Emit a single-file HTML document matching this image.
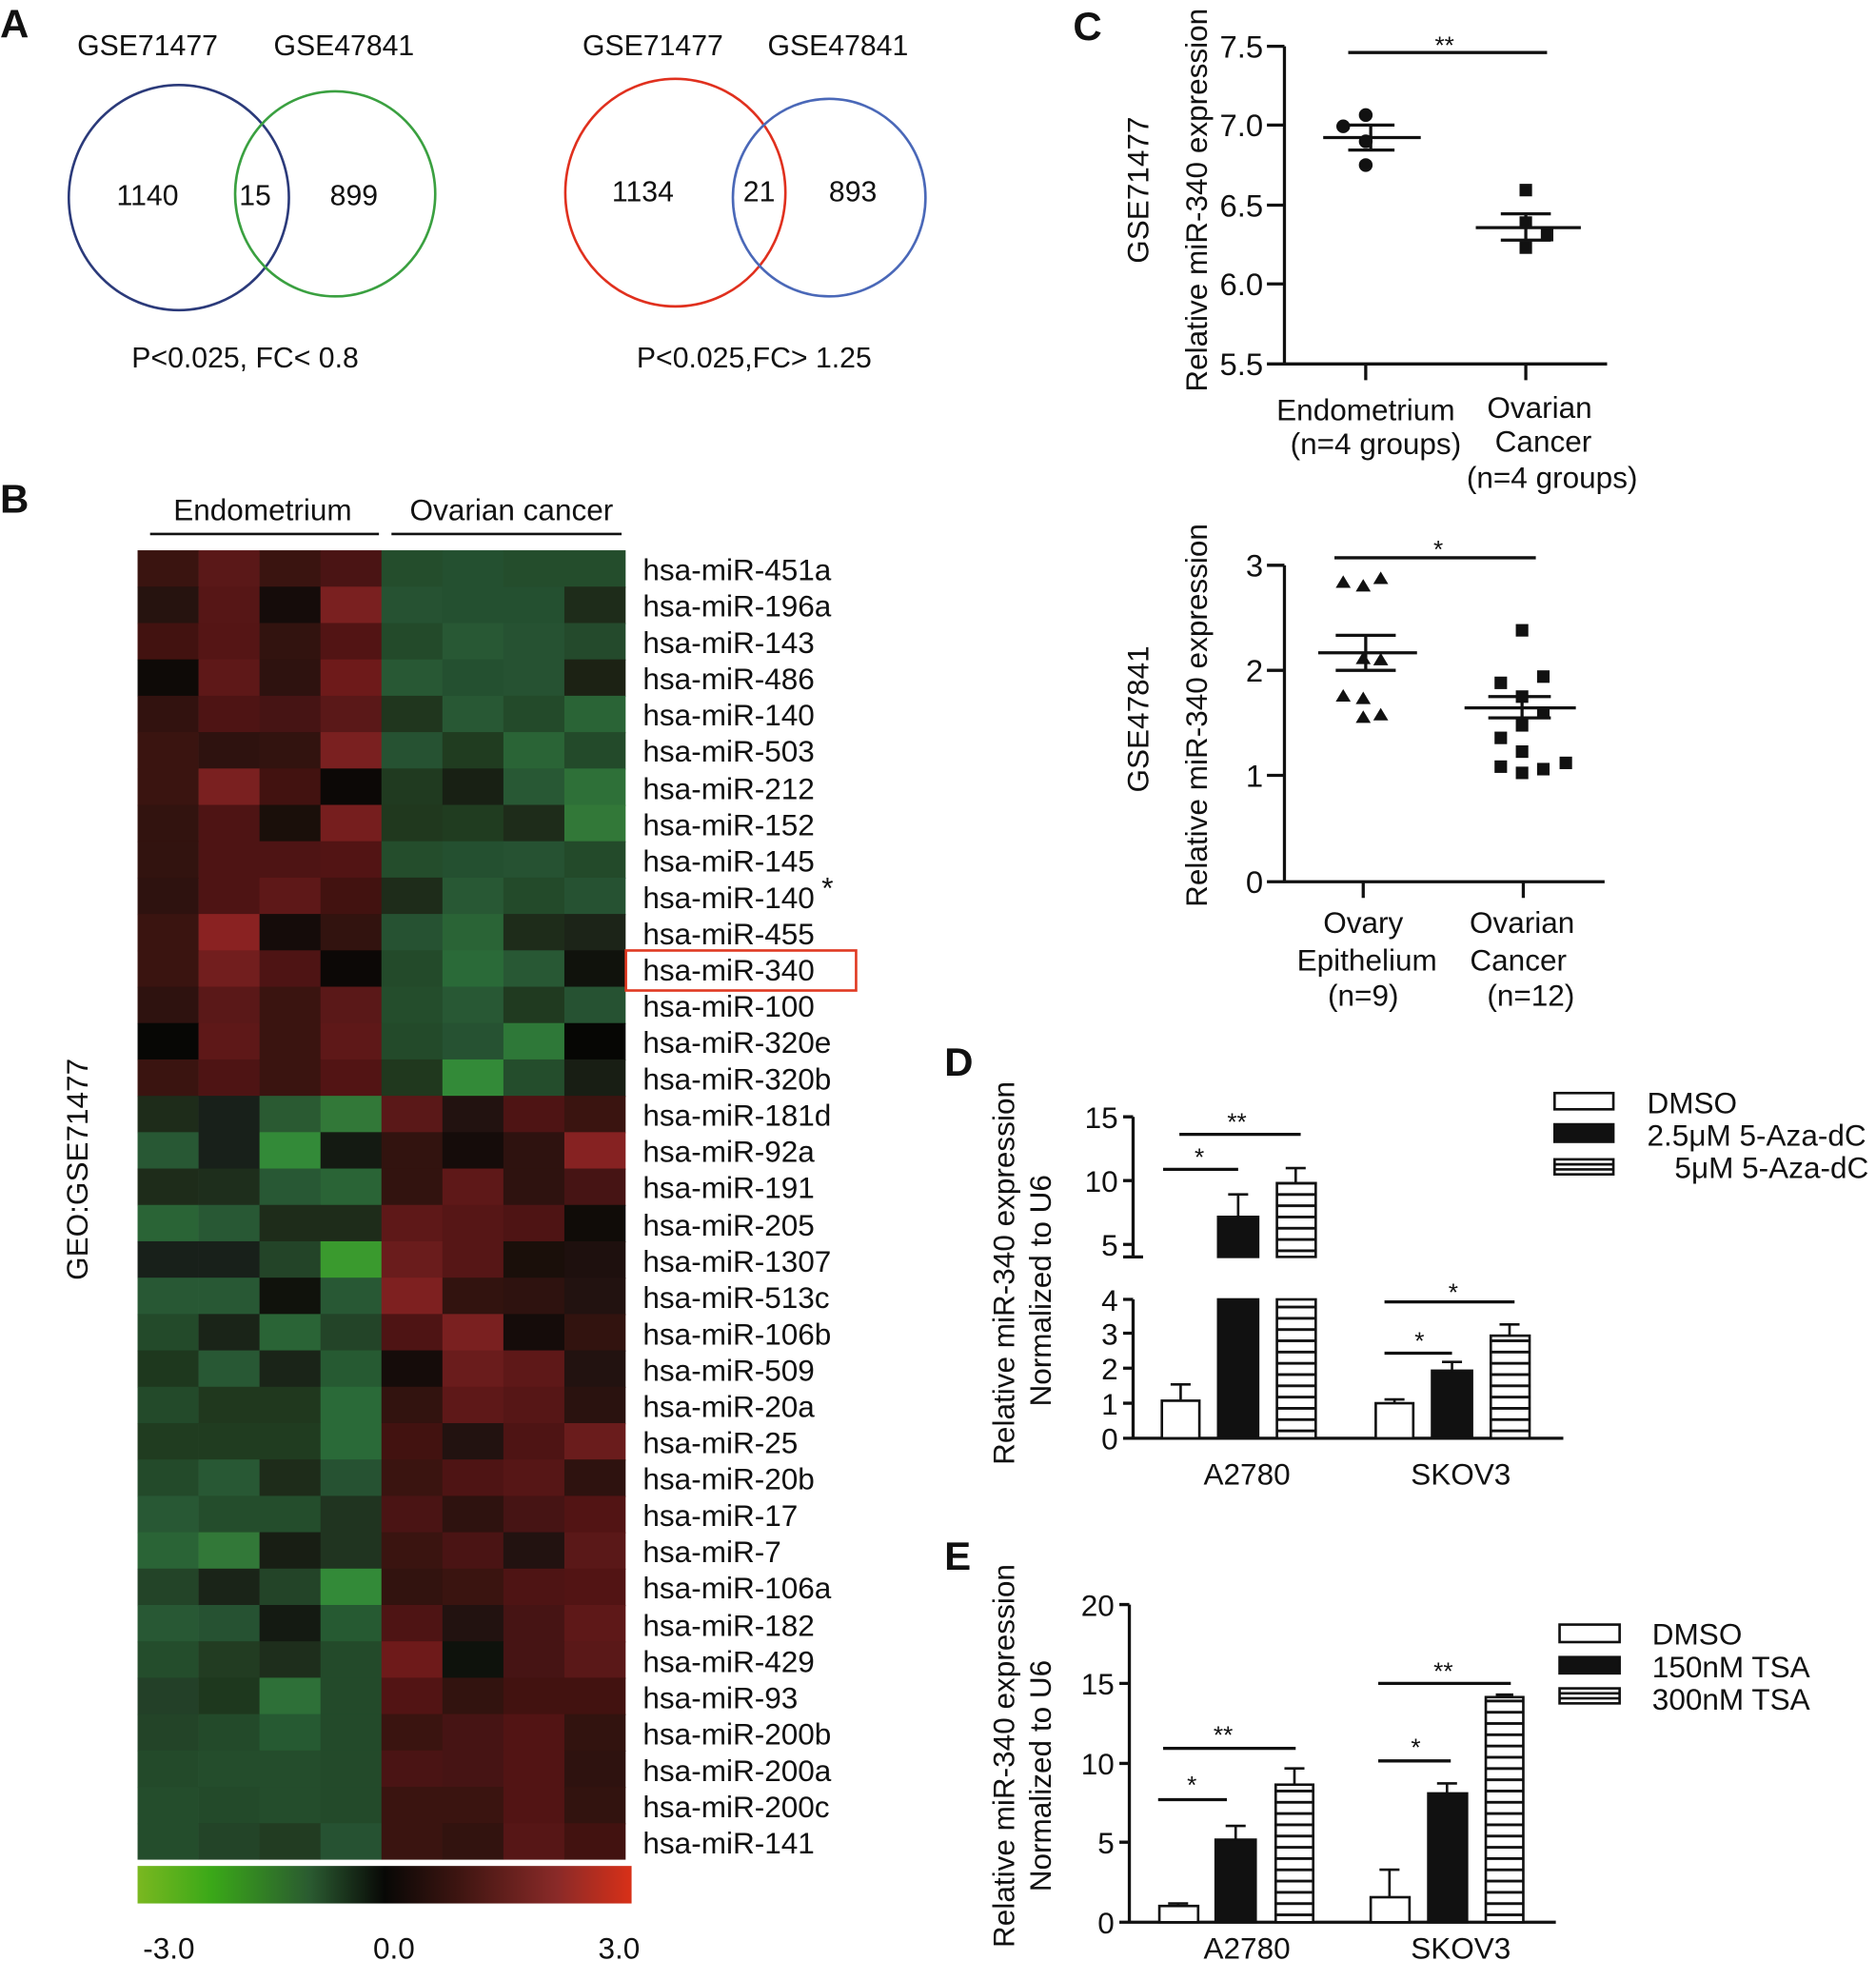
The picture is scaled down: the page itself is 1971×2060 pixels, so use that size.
<!DOCTYPE html>
<html><head><meta charset="utf-8"><style>
html,body{margin:0;padding:0;background:#fff}
svg{display:block}
text{font-family:"Liberation Sans",Arial,sans-serif;fill:#111}
</style></head><body>
<svg width="1971" height="2060" viewBox="0 0 1500 1568" preserveAspectRatio="none" xmlns="http://www.w3.org/2000/svg">
<defs>
<linearGradient id="cb" x1="0" x2="1" y1="0" y2="0">
<stop offset="0" stop-color="#7ab820"/><stop offset="0.15" stop-color="#3aa818"/><stop offset="0.35" stop-color="#2a5a30"/><stop offset="0.5" stop-color="#080806"/><stop offset="0.64" stop-color="#3a1410"/><stop offset="0.85" stop-color="#8a2a28"/><stop offset="1" stop-color="#d83018"/>
</linearGradient>
<pattern id="st" width="10" height="9" patternUnits="userSpaceOnUse"><rect width="10" height="9" fill="#fff"/><rect y="0" width="10" height="2.2" fill="#111"/></pattern>
</defs>

<!-- Panel A -->
<text x="0" y="30" font-size="32" font-weight="bold">A</text>
<g font-size="23" text-anchor="middle">
<text x="118" y="44">GSE71477</text><text x="275" y="44">GSE47841</text>
<text x="522" y="44">GSE71477</text><text x="670" y="44">GSE47841</text>
<text x="118" y="164">1140</text><text x="204" y="164">15</text><text x="283" y="164">899</text>
<text x="514" y="161">1134</text><text x="607" y="161">21</text><text x="682" y="161">893</text>
<text x="196" y="294">P&lt;0.025, FC&lt; 0.8</text><text x="603" y="294">P&lt;0.025,FC&gt; 1.25</text>
</g>
<g fill="none" stroke-width="2">
<ellipse cx="143" cy="158" rx="88" ry="90" stroke="#2b3a7a"/>
<ellipse cx="268" cy="155" rx="80" ry="82" stroke="#3aa040"/>
<ellipse cx="540" cy="154" rx="88" ry="91" stroke="#e0301e"/>
<ellipse cx="663" cy="158" rx="77" ry="79" stroke="#4a68b8"/>
</g>

<!-- Panel B -->
<text x="0" y="410" font-size="32" font-weight="bold">B</text>
<g font-size="24" text-anchor="middle"><text x="210" y="416">Endometrium</text><text x="409" y="416">Ovarian cancer</text></g>
<line x1="120" y1="427" x2="303" y2="427" stroke="#111" stroke-width="2"/>
<line x1="313" y1="427" x2="497" y2="427" stroke="#111" stroke-width="2"/>
<text transform="translate(70,935) rotate(-90)" font-size="24" text-anchor="middle">GEO:GSE71477</text>

<g id="hm">
<g transform="translate(0,440)"><rect x="110" width="49" height="30" fill="#3a1410"/><rect x="158.75" width="49" height="30" fill="#5a1818"/><rect x="207.5" width="49" height="30" fill="#3a1410"/><rect x="256.25" width="49" height="30" fill="#4a1414"/><rect x="305" width="49" height="30" fill="#244d2c"/><rect x="353.75" width="49" height="30" fill="#245030"/><rect x="402.5" width="49" height="30" fill="#244d2c"/><rect x="451.25" width="49" height="30" fill="#244d2c"/></g>
<g transform="translate(0,469.08)"><rect x="110" width="49" height="30" fill="#26130f"/><rect x="158.75" width="49" height="30" fill="#561616"/><rect x="207.5" width="49" height="30" fill="#150c0a"/><rect x="256.25" width="49" height="30" fill="#7a2020"/><rect x="305" width="49" height="30" fill="#265232"/><rect x="353.75" width="49" height="30" fill="#245030"/><rect x="402.5" width="49" height="30" fill="#245030"/><rect x="451.25" width="49" height="30" fill="#1e2c1a"/></g>
<g transform="translate(0,498.16)"><rect x="110" width="49" height="30" fill="#421210"/><rect x="158.75" width="49" height="30" fill="#551515"/><rect x="207.5" width="49" height="30" fill="#32130f"/><rect x="256.25" width="49" height="30" fill="#521414"/><rect x="305" width="49" height="30" fill="#234a2a"/><rect x="353.75" width="49" height="30" fill="#285834"/><rect x="402.5" width="49" height="30" fill="#265232"/><rect x="451.25" width="49" height="30" fill="#244a2c"/></g>
<g transform="translate(0,527.24)"><rect x="110" width="49" height="30" fill="#0e0a07"/><rect x="158.75" width="49" height="30" fill="#5e1818"/><rect x="207.5" width="49" height="30" fill="#2e120f"/><rect x="256.25" width="49" height="30" fill="#6e1a1a"/><rect x="305" width="49" height="30" fill="#285834"/><rect x="353.75" width="49" height="30" fill="#245030"/><rect x="402.5" width="49" height="30" fill="#265232"/><rect x="451.25" width="49" height="30" fill="#1c2214"/></g>
<g transform="translate(0,556.32)"><rect x="110" width="49" height="30" fill="#32120f"/><rect x="158.75" width="49" height="30" fill="#4e1414"/><rect x="207.5" width="49" height="30" fill="#461414"/><rect x="256.25" width="49" height="30" fill="#5a1818"/><rect x="305" width="49" height="30" fill="#20361e"/><rect x="353.75" width="49" height="30" fill="#285834"/><rect x="402.5" width="49" height="30" fill="#234a2a"/><rect x="451.25" width="49" height="30" fill="#2a6436"/></g>
<g transform="translate(0,585.4)"><rect x="110" width="49" height="30" fill="#3a1410"/><rect x="158.75" width="49" height="30" fill="#2e120f"/><rect x="207.5" width="49" height="30" fill="#32130f"/><rect x="256.25" width="49" height="30" fill="#7a2020"/><rect x="305" width="49" height="30" fill="#265232"/><rect x="353.75" width="49" height="30" fill="#203c20"/><rect x="402.5" width="49" height="30" fill="#2a6436"/><rect x="451.25" width="49" height="30" fill="#234a2a"/></g>
<g transform="translate(0,614.48)"><rect x="110" width="49" height="30" fill="#3a1410"/><rect x="158.75" width="49" height="30" fill="#7a2020"/><rect x="207.5" width="49" height="30" fill="#421210"/><rect x="256.25" width="49" height="30" fill="#0c0806"/><rect x="305" width="49" height="30" fill="#203a20"/><rect x="353.75" width="49" height="30" fill="#182014"/><rect x="402.5" width="49" height="30" fill="#285834"/><rect x="451.25" width="49" height="30" fill="#2e7038"/></g>
<g transform="translate(0,643.56)"><rect x="110" width="49" height="30" fill="#32130f"/><rect x="158.75" width="49" height="30" fill="#4e1414"/><rect x="207.5" width="49" height="30" fill="#1a0f0a"/><rect x="256.25" width="49" height="30" fill="#761e1e"/><rect x="305" width="49" height="30" fill="#20381e"/><rect x="353.75" width="49" height="30" fill="#203c20"/><rect x="402.5" width="49" height="30" fill="#1e2c1a"/><rect x="451.25" width="49" height="30" fill="#327838"/></g>
<g transform="translate(0,672.64)"><rect x="110" width="49" height="30" fill="#32130f"/><rect x="158.75" width="49" height="30" fill="#4e1414"/><rect x="207.5" width="49" height="30" fill="#4e1414"/><rect x="256.25" width="49" height="30" fill="#521414"/><rect x="305" width="49" height="30" fill="#244d2c"/><rect x="353.75" width="49" height="30" fill="#245030"/><rect x="402.5" width="49" height="30" fill="#265232"/><rect x="451.25" width="49" height="30" fill="#234a2a"/></g>
<g transform="translate(0,701.72)"><rect x="110" width="49" height="30" fill="#2e120f"/><rect x="158.75" width="49" height="30" fill="#4e1414"/><rect x="207.5" width="49" height="30" fill="#5e1818"/><rect x="256.25" width="49" height="30" fill="#421210"/><rect x="305" width="49" height="30" fill="#1e2c1a"/><rect x="353.75" width="49" height="30" fill="#285834"/><rect x="402.5" width="49" height="30" fill="#234a2a"/><rect x="451.25" width="49" height="30" fill="#265232"/></g>
<g transform="translate(0,730.8)"><rect x="110" width="49" height="30" fill="#3a1410"/><rect x="158.75" width="49" height="30" fill="#8a2222"/><rect x="207.5" width="49" height="30" fill="#150c0a"/><rect x="256.25" width="49" height="30" fill="#32130f"/><rect x="305" width="49" height="30" fill="#265232"/><rect x="353.75" width="49" height="30" fill="#2a6436"/><rect x="402.5" width="49" height="30" fill="#1e2c1a"/><rect x="451.25" width="49" height="30" fill="#1c2418"/></g>
<g transform="translate(0,759.88)"><rect x="110" width="49" height="30" fill="#3a1410"/><rect x="158.75" width="49" height="30" fill="#721e1e"/><rect x="207.5" width="49" height="30" fill="#4e1414"/><rect x="256.25" width="49" height="30" fill="#0c0806"/><rect x="305" width="49" height="30" fill="#234a2a"/><rect x="353.75" width="49" height="30" fill="#2a6a38"/><rect x="402.5" width="49" height="30" fill="#285834"/><rect x="451.25" width="49" height="30" fill="#10120c"/></g>
<g transform="translate(0,788.96)"><rect x="110" width="49" height="30" fill="#2e120f"/><rect x="158.75" width="49" height="30" fill="#5a1818"/><rect x="207.5" width="49" height="30" fill="#3a1410"/><rect x="256.25" width="49" height="30" fill="#5a1818"/><rect x="305" width="49" height="30" fill="#244d2c"/><rect x="353.75" width="49" height="30" fill="#285834"/><rect x="402.5" width="49" height="30" fill="#203a20"/><rect x="451.25" width="49" height="30" fill="#265232"/></g>
<g transform="translate(0,818.04)"><rect x="110" width="49" height="30" fill="#070705"/><rect x="158.75" width="49" height="30" fill="#5e1818"/><rect x="207.5" width="49" height="30" fill="#3a1410"/><rect x="256.25" width="49" height="30" fill="#5e1818"/><rect x="305" width="49" height="30" fill="#234a2a"/><rect x="353.75" width="49" height="30" fill="#265232"/><rect x="402.5" width="49" height="30" fill="#2e7838"/><rect x="451.25" width="49" height="30" fill="#060604"/></g>
<g transform="translate(0,847.12)"><rect x="110" width="49" height="30" fill="#3a1410"/><rect x="158.75" width="49" height="30" fill="#4e1414"/><rect x="207.5" width="49" height="30" fill="#3a1410"/><rect x="256.25" width="49" height="30" fill="#521414"/><rect x="305" width="49" height="30" fill="#20381e"/><rect x="353.75" width="49" height="30" fill="#338a38"/><rect x="402.5" width="49" height="30" fill="#244d2c"/><rect x="451.25" width="49" height="30" fill="#181e14"/></g>
<g transform="translate(0,876.2)"><rect x="110" width="49" height="30" fill="#1e2c1a"/><rect x="158.75" width="49" height="30" fill="#18201a"/><rect x="207.5" width="49" height="30" fill="#2a5a32"/><rect x="256.25" width="49" height="30" fill="#327838"/><rect x="305" width="49" height="30" fill="#5a1818"/><rect x="353.75" width="49" height="30" fill="#221210"/><rect x="402.5" width="49" height="30" fill="#4e1414"/><rect x="451.25" width="49" height="30" fill="#3a1410"/></g>
<g transform="translate(0,905.28)"><rect x="110" width="49" height="30" fill="#285834"/><rect x="158.75" width="49" height="30" fill="#18201a"/><rect x="207.5" width="49" height="30" fill="#338a38"/><rect x="256.25" width="49" height="30" fill="#141a12"/><rect x="305" width="49" height="30" fill="#32130f"/><rect x="353.75" width="49" height="30" fill="#150c0a"/><rect x="402.5" width="49" height="30" fill="#2e120f"/><rect x="451.25" width="49" height="30" fill="#862222"/></g>
<g transform="translate(0,934.36)"><rect x="110" width="49" height="30" fill="#1e2c1a"/><rect x="158.75" width="49" height="30" fill="#1e2e1c"/><rect x="207.5" width="49" height="30" fill="#285834"/><rect x="256.25" width="49" height="30" fill="#2a6436"/><rect x="305" width="49" height="30" fill="#32130f"/><rect x="353.75" width="49" height="30" fill="#5e1818"/><rect x="402.5" width="49" height="30" fill="#2e120f"/><rect x="451.25" width="49" height="30" fill="#461414"/></g>
<g transform="translate(0,963.44)"><rect x="110" width="49" height="30" fill="#2a6436"/><rect x="158.75" width="49" height="30" fill="#285834"/><rect x="207.5" width="49" height="30" fill="#1e2c1a"/><rect x="256.25" width="49" height="30" fill="#1e2c1a"/><rect x="305" width="49" height="30" fill="#5e1818"/><rect x="353.75" width="49" height="30" fill="#561616"/><rect x="402.5" width="49" height="30" fill="#4e1414"/><rect x="451.25" width="49" height="30" fill="#100c08"/></g>
<g transform="translate(0,992.52)"><rect x="110" width="49" height="30" fill="#18201a"/><rect x="158.75" width="49" height="30" fill="#18201a"/><rect x="207.5" width="49" height="30" fill="#234428"/><rect x="256.25" width="49" height="30" fill="#3a9a2e"/><rect x="305" width="49" height="30" fill="#6a1c1c"/><rect x="353.75" width="49" height="30" fill="#561616"/><rect x="402.5" width="49" height="30" fill="#1a0f0a"/><rect x="451.25" width="49" height="30" fill="#1e100e"/></g>
<g transform="translate(0,1021.6)"><rect x="110" width="49" height="30" fill="#285834"/><rect x="158.75" width="49" height="30" fill="#285834"/><rect x="207.5" width="49" height="30" fill="#10120c"/><rect x="256.25" width="49" height="30" fill="#285834"/><rect x="305" width="49" height="30" fill="#7e2020"/><rect x="353.75" width="49" height="30" fill="#32130f"/><rect x="402.5" width="49" height="30" fill="#2e120f"/><rect x="451.25" width="49" height="30" fill="#221210"/></g>
<g transform="translate(0,1050.68)"><rect x="110" width="49" height="30" fill="#234a2a"/><rect x="158.75" width="49" height="30" fill="#1a2418"/><rect x="207.5" width="49" height="30" fill="#2a6436"/><rect x="256.25" width="49" height="30" fill="#234428"/><rect x="305" width="49" height="30" fill="#4e1414"/><rect x="353.75" width="49" height="30" fill="#7a2020"/><rect x="402.5" width="49" height="30" fill="#150c0a"/><rect x="451.25" width="49" height="30" fill="#32130f"/></g>
<g transform="translate(0,1079.76)"><rect x="110" width="49" height="30" fill="#1e381e"/><rect x="158.75" width="49" height="30" fill="#285834"/><rect x="207.5" width="49" height="30" fill="#1a2418"/><rect x="256.25" width="49" height="30" fill="#265a32"/><rect x="305" width="49" height="30" fill="#150c0a"/><rect x="353.75" width="49" height="30" fill="#6a1c1c"/><rect x="402.5" width="49" height="30" fill="#5e1818"/><rect x="451.25" width="49" height="30" fill="#221210"/></g>
<g transform="translate(0,1108.84)"><rect x="110" width="49" height="30" fill="#234a2a"/><rect x="158.75" width="49" height="30" fill="#20381e"/><rect x="207.5" width="49" height="30" fill="#20381e"/><rect x="256.25" width="49" height="30" fill="#2a6a38"/><rect x="305" width="49" height="30" fill="#32130f"/><rect x="353.75" width="49" height="30" fill="#5e1818"/><rect x="402.5" width="49" height="30" fill="#561616"/><rect x="451.25" width="49" height="30" fill="#2a120f"/></g>
<g transform="translate(0,1137.92)"><rect x="110" width="49" height="30" fill="#203c20"/><rect x="158.75" width="49" height="30" fill="#203c20"/><rect x="207.5" width="49" height="30" fill="#203c20"/><rect x="256.25" width="49" height="30" fill="#2a6a38"/><rect x="305" width="49" height="30" fill="#421210"/><rect x="353.75" width="49" height="30" fill="#221210"/><rect x="402.5" width="49" height="30" fill="#4e1414"/><rect x="451.25" width="49" height="30" fill="#6a1c1c"/></g>
<g transform="translate(0,1167)"><rect x="110" width="49" height="30" fill="#234a2a"/><rect x="158.75" width="49" height="30" fill="#285834"/><rect x="207.5" width="49" height="30" fill="#1e2c1a"/><rect x="256.25" width="49" height="30" fill="#265232"/><rect x="305" width="49" height="30" fill="#3a1410"/><rect x="353.75" width="49" height="30" fill="#4e1414"/><rect x="402.5" width="49" height="30" fill="#561616"/><rect x="451.25" width="49" height="30" fill="#2e120f"/></g>
<g transform="translate(0,1196.08)"><rect x="110" width="49" height="30" fill="#285834"/><rect x="158.75" width="49" height="30" fill="#244d2c"/><rect x="207.5" width="49" height="30" fill="#244d2c"/><rect x="256.25" width="49" height="30" fill="#203420"/><rect x="305" width="49" height="30" fill="#4a1414"/><rect x="353.75" width="49" height="30" fill="#2e120f"/><rect x="402.5" width="49" height="30" fill="#461414"/><rect x="451.25" width="49" height="30" fill="#521414"/></g>
<g transform="translate(0,1225.16)"><rect x="110" width="49" height="30" fill="#2a6436"/><rect x="158.75" width="49" height="30" fill="#327838"/><rect x="207.5" width="49" height="30" fill="#181e14"/><rect x="256.25" width="49" height="30" fill="#203420"/><rect x="305" width="49" height="30" fill="#3a1410"/><rect x="353.75" width="49" height="30" fill="#4a1414"/><rect x="402.5" width="49" height="30" fill="#221210"/><rect x="451.25" width="49" height="30" fill="#5a1818"/></g>
<g transform="translate(0,1254.24)"><rect x="110" width="49" height="30" fill="#234428"/><rect x="158.75" width="49" height="30" fill="#1a2418"/><rect x="207.5" width="49" height="30" fill="#234428"/><rect x="256.25" width="49" height="30" fill="#338a38"/><rect x="305" width="49" height="30" fill="#32130f"/><rect x="353.75" width="49" height="30" fill="#3a1410"/><rect x="402.5" width="49" height="30" fill="#4e1414"/><rect x="451.25" width="49" height="30" fill="#521414"/></g>
<g transform="translate(0,1283.32)"><rect x="110" width="49" height="30" fill="#285834"/><rect x="158.75" width="49" height="30" fill="#265232"/><rect x="207.5" width="49" height="30" fill="#141a12"/><rect x="256.25" width="49" height="30" fill="#265a32"/><rect x="305" width="49" height="30" fill="#4e1414"/><rect x="353.75" width="49" height="30" fill="#221210"/><rect x="402.5" width="49" height="30" fill="#461414"/><rect x="451.25" width="49" height="30" fill="#5e1818"/></g>
<g transform="translate(0,1312.4)"><rect x="110" width="49" height="30" fill="#244d2c"/><rect x="158.75" width="49" height="30" fill="#223c22"/><rect x="207.5" width="49" height="30" fill="#1e2e1c"/><rect x="256.25" width="49" height="30" fill="#234a2a"/><rect x="305" width="49" height="30" fill="#6e1a1a"/><rect x="353.75" width="49" height="30" fill="#0e120c"/><rect x="402.5" width="49" height="30" fill="#461414"/><rect x="451.25" width="49" height="30" fill="#5a1818"/></g>
<g transform="translate(0,1341.48)"><rect x="110" width="49" height="30" fill="#234028"/><rect x="158.75" width="49" height="30" fill="#1e381e"/><rect x="207.5" width="49" height="30" fill="#2e7038"/><rect x="256.25" width="49" height="30" fill="#234a2a"/><rect x="305" width="49" height="30" fill="#521414"/><rect x="353.75" width="49" height="30" fill="#32130f"/><rect x="402.5" width="49" height="30" fill="#421210"/><rect x="451.25" width="49" height="30" fill="#421210"/></g>
<g transform="translate(0,1370.56)"><rect x="110" width="49" height="30" fill="#234428"/><rect x="158.75" width="49" height="30" fill="#234a2a"/><rect x="207.5" width="49" height="30" fill="#265a32"/><rect x="256.25" width="49" height="30" fill="#234a2a"/><rect x="305" width="49" height="30" fill="#3a1410"/><rect x="353.75" width="49" height="30" fill="#461414"/><rect x="402.5" width="49" height="30" fill="#521414"/><rect x="451.25" width="49" height="30" fill="#32130f"/></g>
<g transform="translate(0,1399.64)"><rect x="110" width="49" height="30" fill="#234a2a"/><rect x="158.75" width="49" height="30" fill="#244d2c"/><rect x="207.5" width="49" height="30" fill="#244d2c"/><rect x="256.25" width="49" height="30" fill="#234a2a"/><rect x="305" width="49" height="30" fill="#4a1414"/><rect x="353.75" width="49" height="30" fill="#461414"/><rect x="402.5" width="49" height="30" fill="#521414"/><rect x="451.25" width="49" height="30" fill="#2e120f"/></g>
<g transform="translate(0,1428.72)"><rect x="110" width="49" height="30" fill="#244d2c"/><rect x="158.75" width="49" height="30" fill="#234a2a"/><rect x="207.5" width="49" height="30" fill="#244d2c"/><rect x="256.25" width="49" height="30" fill="#234a2a"/><rect x="305" width="49" height="30" fill="#3a1410"/><rect x="353.75" width="49" height="30" fill="#3a1410"/><rect x="402.5" width="49" height="30" fill="#521414"/><rect x="451.25" width="49" height="30" fill="#32130f"/></g>
<g transform="translate(0,1457.8)"><rect x="110" width="49" height="29.2" fill="#244d2c"/><rect x="158.75" width="49" height="29.2" fill="#234428"/><rect x="207.5" width="49" height="29.2" fill="#223c22"/><rect x="256.25" width="49" height="29.2" fill="#265232"/><rect x="305" width="49" height="29.2" fill="#3a1410"/><rect x="353.75" width="49" height="29.2" fill="#32130f"/><rect x="402.5" width="49" height="29.2" fill="#561616"/><rect x="451.25" width="49" height="29.2" fill="#421210"/></g>
</g>

<g font-size="24">
<text x="514" y="464">hsa-miR-451a</text><text x="514" y="493">hsa-miR-196a</text><text x="514" y="522">hsa-miR-143</text><text x="514" y="551">hsa-miR-486</text><text x="514" y="580">hsa-miR-140</text><text x="514" y="609">hsa-miR-503</text><text x="514" y="639">hsa-miR-212</text><text x="514" y="668">hsa-miR-152</text><text x="514" y="697">hsa-miR-145</text><text x="514" y="726">hsa-miR-140</text><text x="514" y="755">hsa-miR-455</text><text x="514" y="784">hsa-miR-340</text><text x="514" y="813">hsa-miR-100</text><text x="514" y="842">hsa-miR-320e</text><text x="514" y="871">hsa-miR-320b</text><text x="514" y="900">hsa-miR-181d</text><text x="514" y="929">hsa-miR-92a</text><text x="514" y="958">hsa-miR-191</text><text x="514" y="988">hsa-miR-205</text><text x="514" y="1017">hsa-miR-1307</text><text x="514" y="1046">hsa-miR-513c</text><text x="514" y="1075">hsa-miR-106b</text><text x="514" y="1104">hsa-miR-509</text><text x="514" y="1133">hsa-miR-20a</text><text x="514" y="1162">hsa-miR-25</text><text x="514" y="1191">hsa-miR-20b</text><text x="514" y="1220">hsa-miR-17</text><text x="514" y="1249">hsa-miR-7</text><text x="514" y="1278">hsa-miR-106a</text><text x="514" y="1308">hsa-miR-182</text><text x="514" y="1337">hsa-miR-429</text><text x="514" y="1366">hsa-miR-93</text><text x="514" y="1395">hsa-miR-200b</text><text x="514" y="1424">hsa-miR-200a</text><text x="514" y="1453">hsa-miR-200c</text><text x="514" y="1482">hsa-miR-141</text>
</g>
<text x="657" y="718" font-size="24">*</text>
<rect x="500.5" y="760" width="184" height="32" fill="none" stroke="#e03a22" stroke-width="2"/>
<rect x="110" y="1492" width="395" height="30" fill="url(#cb)"/>
<g font-size="24" text-anchor="middle"><text x="135" y="1566">-3.0</text><text x="315" y="1566">0.0</text><text x="495" y="1566">3.0</text></g>

<!-- Panel C -->
<text x="858" y="32" font-size="32" font-weight="bold">C</text>
<g stroke="#111" stroke-width="2.5" fill="none">
<path d="M1027 37V291H1285M1013 37H1027M1013 100H1027M1013 164H1027M1013 227H1027M1013 291H1027M1092 291V304M1220 291V304"/>
<path d="M1078 42H1237"/>
<path d="M1058 110H1136M1078 100H1115M1078 120H1115M1096 100V120"/>
<path d="M1180 182H1264M1200 171H1240M1200 192H1240M1220 171V192"/>
</g>
<g fill="#111">
<circle cx="1092" cy="92" r="5.5"/><circle cx="1074" cy="101" r="5.5"/><circle cx="1092" cy="113" r="5.5"/><circle cx="1092" cy="132" r="5.5"/>
<rect x="1215" y="147" width="10" height="10"/><rect x="1215" y="173" width="10" height="10"/><rect x="1232" y="183" width="10" height="10"/><rect x="1215" y="193" width="10" height="10"/>
</g>
<g font-size="25" text-anchor="end"><text x="1010" y="46">7.5</text><text x="1010" y="109">7.0</text><text x="1010" y="173">6.5</text><text x="1010" y="236">6.0</text><text x="1010" y="300">5.5</text></g>
<text x="1155" y="43" font-size="20" text-anchor="middle">**</text>
<g font-size="24" text-anchor="middle">
<text x="1092" y="336">Endometrium</text><text x="1100" y="363">(n=4 groups)</text>
<text x="1231" y="334">Ovarian</text><text x="1234" y="361">Cancer</text><text x="1241" y="390">(n=4 groups)</text>
</g>
<text transform="translate(965,160) rotate(-90)" font-size="24" text-anchor="middle">Relative miR-340 expression</text>
<text transform="translate(918,152) rotate(-90)" font-size="24" text-anchor="middle">GSE71477</text>

<g stroke="#111" stroke-width="2.5" fill="none">
<path d="M1027 452V705H1283M1013 452H1027M1013 536H1027M1013 620H1027M1013 705H1027M1090 705V718M1218 705V718"/>
<path d="M1067 446H1228"/>
<path d="M1054 522H1133M1068 508H1116M1068 536H1116M1092 508V536"/>
<path d="M1171 566H1260M1190 557H1240M1190 574H1240M1217 557V574"/>
</g>
<g fill="#111">
<path d="M1074 460l6 10h-12z M1090 463l6 10h-12z M1104 457l6 10h-12z M1090 521l6 10h-12z M1104 522l6 10h-12z M1074 551l6 10h-12z M1090 553l6 10h-12z M1090 568l6 10h-12z M1104 566l6 10h-12z"/>
<rect x="1212" y="499" width="10" height="10"/><rect x="1229" y="536" width="10" height="10"/><rect x="1195" y="541" width="10" height="10"/><rect x="1212" y="552" width="10" height="10"/><rect x="1229" y="565" width="10" height="10"/><rect x="1212" y="575" width="10" height="10"/><rect x="1195" y="585" width="10" height="10"/><rect x="1212" y="596" width="10" height="10"/><rect x="1195" y="608" width="10" height="10"/><rect x="1212" y="613" width="10" height="10"/><rect x="1229" y="610" width="10" height="10"/><rect x="1247" y="605" width="10" height="10"/>
</g>
<g font-size="25" text-anchor="end"><text x="1010" y="461">3</text><text x="1010" y="545">2</text><text x="1010" y="629">1</text><text x="1010" y="714">0</text></g>
<text x="1150" y="446" font-size="20" text-anchor="middle">*</text>
<g font-size="24" text-anchor="middle">
<text x="1090" y="746">Ovary</text><text x="1093" y="776">Epithelium</text><text x="1090" y="804">(n=9)</text>
<text x="1217" y="746">Ovarian</text><text x="1214" y="776">Cancer</text><text x="1224" y="804">(n=12)</text>
</g>
<text transform="translate(965,572) rotate(-90)" font-size="24" text-anchor="middle">Relative miR-340 expression</text>
<text transform="translate(918,575) rotate(-90)" font-size="24" text-anchor="middle">GSE47841</text>

<!-- Panel D -->
<text x="755" y="860" font-size="32" font-weight="bold">D</text>
<g stroke="#111" stroke-width="2.5" fill="none">
<path d="M906 893V1005M898 893H906M898 944H906M898 995H906M898 1005H914"/>
<path d="M906 1039V1150H1250M898 1039H906M898 1066H906M898 1094H906M898 1122H906M898 1150H906"/>
</g>
<g stroke="#111" stroke-width="2" fill="none">
<rect x="929" y="1120" width="30" height="30" fill="#fff"/><path d="M944 1120V1107M936 1107H952"/>
<rect x="974" y="973" width="32" height="32" fill="#111"/><path d="M990 973V955M982 955H998"/>
<rect x="974" y="1039" width="32" height="111" fill="#111"/>
<rect x="1021" y="946" width="31" height="59" fill="url(#st)"/><path d="M1036 946V934M1028 934H1044"/>
<rect x="1021" y="1039" width="31" height="111" fill="url(#st)"/>
<rect x="1100" y="1122" width="30" height="28" fill="#fff"/><path d="M1115 1122V1119M1107 1119H1123"/>
<rect x="1145" y="1096" width="32" height="54" fill="#111"/><path d="M1161 1096V1089M1153 1089H1169"/>
<rect x="1192" y="1068" width="31" height="82" fill="url(#st)"/><path d="M1207 1068V1059M1199 1059H1215"/>
</g>
<g stroke="#111" stroke-width="2.5"><path d="M930 935H990M943 907H1040M1107 1082H1161M1107 1041H1211"/></g>
<g font-size="20" text-anchor="middle"><text x="959" y="932">*</text><text x="989" y="904">**</text><text x="1135" y="1079">*</text><text x="1162" y="1040">*</text></g>
<g font-size="24" text-anchor="end"><text x="894" y="902">15</text><text x="894" y="953">10</text><text x="894" y="1004">5</text><text x="894" y="1048">4</text><text x="894" y="1075">3</text><text x="894" y="1103">2</text><text x="894" y="1131">1</text><text x="894" y="1159">0</text></g>
<g font-size="24" text-anchor="middle"><text x="997" y="1187">A2780</text><text x="1168" y="1187">SKOV3</text></g>
<text transform="translate(811,1018) rotate(-90)" font-size="24" text-anchor="middle">Relative miR-340 expression</text>
<text transform="translate(840,1032) rotate(-90)" font-size="24" text-anchor="middle">Normalized to U6</text>
<g stroke="#111" stroke-width="2">
<rect x="1243" y="874" width="47" height="13" fill="#fff"/><rect x="1243" y="899" width="47" height="14" fill="#111"/><rect x="1243" y="927" width="47" height="12" fill="#fff"/><path d="M1243 931H1290M1243 935H1290"/>
</g>
<g font-size="24"><text x="1317" y="890">DMSO</text><text x="1317" y="916">2.5μM 5-Aza-dC</text><text x="1339" y="942">5μM 5-Aza-dC</text></g>

<!-- Panel E -->
<text x="755" y="1255" font-size="32" font-weight="bold">E</text>
<g stroke="#111" stroke-width="2.5" fill="none">
<path d="M903 1283V1537H1244M895 1283H903M895 1346H903M895 1410H903M895 1473H903M895 1537H903"/>
</g>
<g stroke="#111" stroke-width="2" fill="none">
<rect x="927" y="1524" width="31" height="13" fill="#fff"/><path d="M942 1524V1522M934 1522H950"/>
<rect x="972" y="1471" width="32" height="66" fill="#111"/><path d="M988 1471V1460M980 1460H996"/>
<rect x="1020" y="1427" width="30" height="110" fill="url(#st)"/><path d="M1035 1427V1414M1027 1414H1043"/>
<rect x="1096" y="1517" width="31" height="20" fill="#fff"/><path d="M1111 1517V1495M1103 1495H1119"/>
<rect x="1142" y="1434" width="31" height="103" fill="#111"/><path d="M1157 1434V1426M1149 1426H1165"/>
<rect x="1188" y="1357" width="30" height="180" fill="url(#st)"/><path d="M1196 1355H1210"/>
</g>
<g stroke="#111" stroke-width="2.5"><path d="M926 1439H981M930 1398H1036M1102 1408H1160M1102 1346H1208"/></g>
<g font-size="20" text-anchor="middle"><text x="953" y="1434">*</text><text x="978" y="1394">**</text><text x="1132" y="1404">*</text><text x="1154" y="1343">**</text></g>
<g font-size="24" text-anchor="end"><text x="891" y="1292">20</text><text x="891" y="1355">15</text><text x="891" y="1419">10</text><text x="891" y="1482">5</text><text x="891" y="1546">0</text></g>
<g font-size="24" text-anchor="middle"><text x="997" y="1566">A2780</text><text x="1168" y="1566">SKOV3</text></g>
<text transform="translate(811,1404) rotate(-90)" font-size="24" text-anchor="middle">Relative miR-340 expression</text>
<text transform="translate(840,1420) rotate(-90)" font-size="24" text-anchor="middle">Normalized to U6</text>
<g stroke="#111" stroke-width="2">
<rect x="1247" y="1299" width="48" height="14" fill="#fff"/><rect x="1247" y="1325" width="48" height="13" fill="#111"/><rect x="1247" y="1350" width="48" height="12" fill="#fff"/><path d="M1247 1354H1295M1247 1358H1295"/>
</g>
<g font-size="24"><text x="1321" y="1315">DMSO</text><text x="1321" y="1341">150nM TSA</text><text x="1321" y="1367">300nM TSA</text></g>
</svg>
</body></html>
